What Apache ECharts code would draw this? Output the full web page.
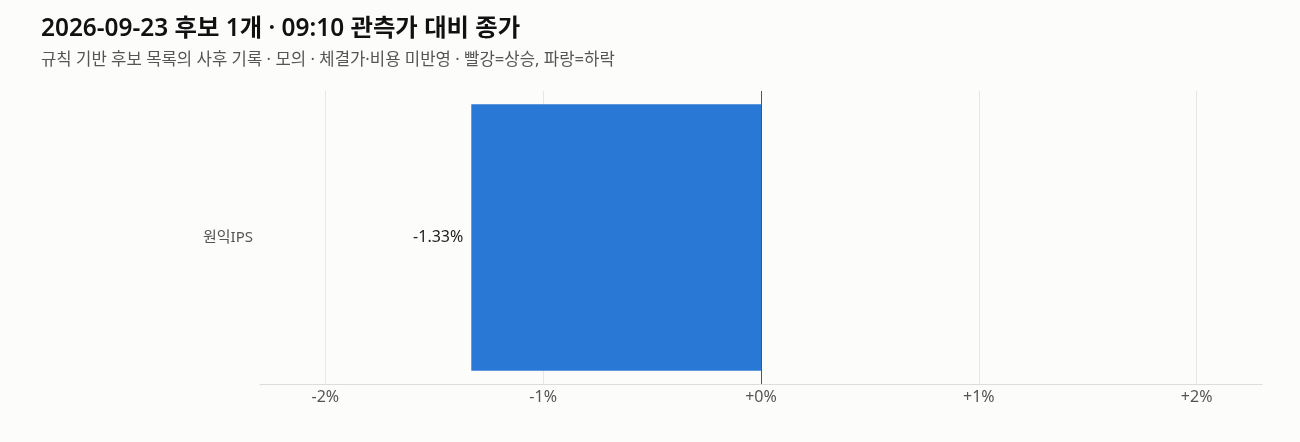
<!DOCTYPE html>
<html>
<head>
<meta charset="utf-8">
<script src="https://cdn.jsdelivr.net/npm/echarts@6/dist/echarts.min.js"></script>
<style>
html,body{margin:0;padding:0;background:#fcfcfb;}
#c{width:1300px;height:442px;}
</style>
</head>
<body>
<div id="c"></div>
<script>
const titleText = '2026-09-23 후보 1개 · 09:10 관측가 대비 종가';
const subtitleText = '규칙 기반 후보 목록의 사후 기록 · 모의 · 체결가·비용 미반영 · 빨강=상승, 파랑=하락';
const categories = ['원익IPS'];
const returns = [-1.33];
const tickValues = [-2, -1, 0, 1, 2];

const font = '"Noto Sans", "Noto Sans CJK KR", sans-serif';
const chart = echarts.init(document.getElementById('c'));
chart.setOption({
  backgroundColor: '#fcfcfb',
  animation: false,
  textStyle: { fontFamily: font },
  title: {
    text: titleText,
    subtext: subtitleText,
    left: 36,
    top: 12,
    itemGap: 11,
    textStyle: { fontFamily: font, fontSize: 24.4, fontWeight: 600, color: '#111' },
    subtextStyle: { fontFamily: font, fontSize: 16.7, color: '#555' }
  },
  grid: { left: 260, right: 38, top: 91, bottom: 58 },
  xAxis: {
    type: 'value',
    min: -2.3,
    max: 2.3,
    axisLine: { show: true, lineStyle: { color: '#dddddd' } },
    axisTick: { show: false, customValues: tickValues },
    axisLabel: {
      customValues: tickValues,
      color: '#555',
      fontSize: 16,
      margin: 5,
      formatter: v => (v >= 0 ? '+' : '') + Math.round(v) + '%'
    },
    splitLine: { show: true, lineStyle: { color: '#e6e6e6' } }
  },
  yAxis: {
    type: 'category',
    data: categories,
    axisLine: { show: false },
    axisTick: { show: false },
    axisLabel: { color: '#555', fontSize: 15, margin: 7 }
  },
  series: [{
    type: 'bar',
    data: returns.map(v => ({ value: v, itemStyle: { color: v >= 0 ? '#d63a3a' : '#2a78d6' } })),
    barWidth: '91%',
    label: {
      show: true,
      position: 'left',
      distance: 8,
      color: '#222',
      fontSize: 16,
      formatter: p => (p.value > 0 ? '+' : '') + p.value.toFixed(2) + '%'
    },
    markLine: {
      silent: true,
      symbol: 'none',
      label: { show: false },
      lineStyle: { color: '#555', type: 'solid', width: 1 },
      data: [{ xAxis: 0 }]
    }
  }]
});
</script>
</body>
</html>
